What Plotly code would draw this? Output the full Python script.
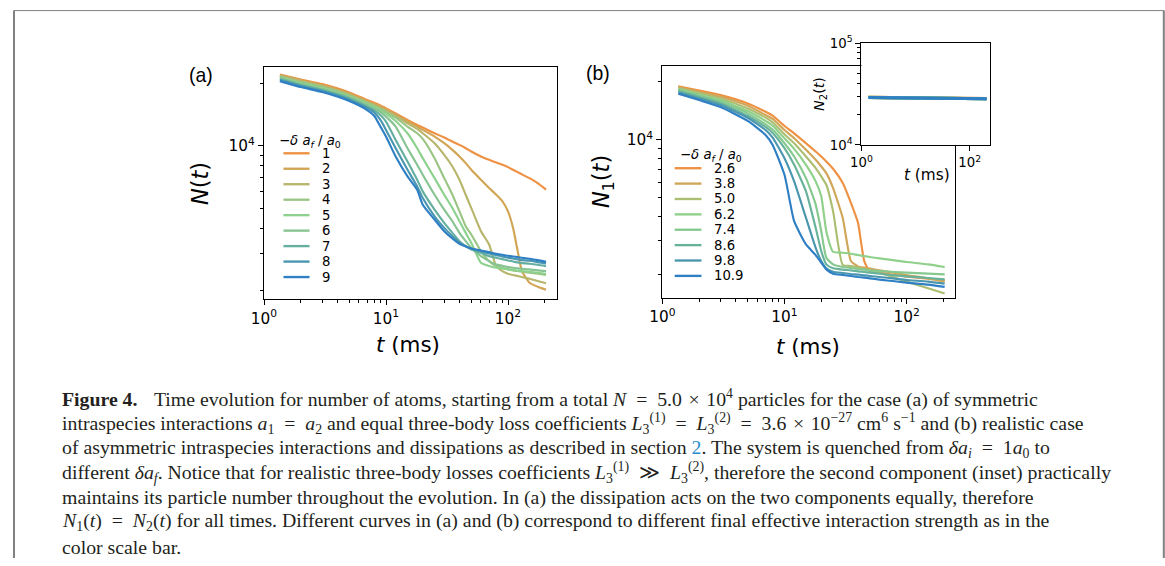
import plotly.graph_objects as go

W, H = 1165, 566

# ---------------- data: panel (a) ----------------
t_a = [1.35, 2, 3, 5, 7, 8, 9, 10, 12, 15, 18, 20, 25, 30, 35, 40, 45, 50, 60, 70,
       80, 90, 100, 110, 120, 130, 150, 175, 205]
labels_a = ["1", "2", "3", "4", "5", "6", "7", "8", "9"]
colors_a = ["#EE9143", "#D2A554", "#B8B56C", "#9BC585", "#8CD28D", "#87C491",
            "#64AF9F", "#4896AF", "#2E7FC4"]
N_a1 = [22160, 20970, 19910, 18150, 16670, 16180, 15710, 15190, 14370, 13350, 12630, 12260,
        11510, 10970, 10490, 10110, 9744, 9390, 8884, 8560, 8310, 8100, 7890, 7660, 7460,
        7275, 6980, 6600, 6134]
N_a2 = [22000, 20810, 19690, 17950, 16480, 16000, 15530, 15020, 14210, 13150, 12390, 11950,
        11090, 10300, 9565, 8884, 8250, 7660, 6855, 6250, 5800, 5390, 4820, 4008, 3092,
        2477, 2175, 2081, 2013]
N_a3 = [21840, 20580, 19470, 17750, 16300, 15770, 15300, 14800, 13950, 12860, 12080, 11510,
        10300, 9050, 7950, 6855, 5800, 5000, 3862, 3331, 2618, 2477, 2404, 2369, 2343,
        2317, 2274, 2216, 2160]
N_a4 = [21680, 20350, 19260, 17550, 16120, 15590, 15080, 14590, 13700, 12390, 11510, 10810,
        8720, 6980, 5800, 4820, 4083, 3722, 3092, 2767, 2618, 2570, 2523, 2495, 2477,
        2459, 2432, 2404, 2369]
N_a5 = [21440, 20130, 19050, 17360, 15940, 15360, 14860, 14320, 13200, 11510, 9744, 8720,
        6980, 5800, 5000, 4315, 3791, 3393, 2717, 2618, 2570, 2551, 2523, 2505, 2486,
        2477, 2459, 2432, 2404]
N_a6 = [21280, 19910, 18840, 17170, 15710, 15130, 14590, 13850, 12390, 9744, 8100, 7250,
        5800, 4910, 4315, 3791, 3456, 3209, 2925, 2767, 2667, 2628, 2589, 2570, 2551,
        2542, 2523, 2495, 2477]
N_a7 = [21050, 19690, 18630, 16980, 15480, 14860, 14110, 13100, 10690, 8403, 6855, 6020,
        4910, 4236, 3791, 3456, 3270, 3150, 3035, 2925, 2872, 2830, 2788, 2757, 2727,
        2707, 2687, 2657, 2618]
N_a8 = [20810, 19470, 18420, 16730, 15250, 14530, 13350, 11950, 9744, 7660, 6365, 5590,
        4560, 4008, 3654, 3393, 3270, 3185, 3092, 3013, 2958, 2914, 2872, 2851, 2819,
        2798, 2778, 2737, 2697]
N_a9 = [20580, 19260, 18220, 16480, 14910, 14000, 12390, 11090, 8884, 7115, 6134, 5190,
        4395, 3862, 3560, 3355, 3257, 3185, 3115, 3058, 3002, 2969, 2936, 2914, 2893,
        2872, 2840, 2798, 2747]
series_a = [N_a1, N_a2, N_a3, N_a4, N_a5, N_a6, N_a7, N_a8, N_a9]

# ---------------- data: panel (b) ----------------
t_b = [1.35, 2, 3, 5, 7, 8, 10, 12, 15, 18, 20, 22, 25, 30, 35, 40, 45, 50, 60, 80, 100, 150, 205]
labels_b = ["2.6", "3.8", "5.0", "6.2", "7.4", "8.6", "9.8", "10.9"]
colors_b = ["#EE9143", "#D0A658", "#ACBE72", "#8FD08A", "#86C98F", "#68B29B", "#4A96AE", "#2E7FC4"]
N_b1 = [19000, 18050, 17070, 15470, 14000, 13350, 11810, 10820, 9612, 8706, 8200, 7728, 7085,
        5973, 4709, 3713, 2354, 2074, 2049, 1993, 1954, 1908, 1870]
N_b2 = [18780, 17770, 16740, 15040, 13460, 12840, 11260, 10200, 8880, 7885, 7284, 6729, 5628,
        3939, 2354, 2209, 2175, 2149, 2107, 2041, 1993, 1915, 1841]
N_b3 = [18560, 17480, 16410, 14570, 13040, 12340, 10700, 9612, 8200, 7141, 6467, 5856, 4265,
        2244, 2218, 2175, 2141, 2107, 2049, 1931, 1841, 1701, 1596]
N_b4 = [18340, 17210, 16090, 14110, 12540, 11860, 10200, 8986, 7430, 6093, 5098, 3363, 2630,
        2599, 2568, 2528, 2498, 2469, 2430, 2373, 2326, 2262, 2192]
N_b5 = [18120, 16940, 15780, 13730, 12050, 11310, 9612, 8200, 6340, 4617, 3363, 2449, 2262,
        2192, 2166, 2141, 2124, 2107, 2090, 2065, 2049, 2025, 2009]
N_b6 = [17910, 16670, 15470, 13350, 11670, 10870, 9057, 7430, 5409, 3499, 2651, 2262, 2158,
        2124, 2107, 2082, 2065, 2049, 2025, 1985, 1961, 1923, 1892]
N_b7 = [17620, 16410, 15160, 13040, 11260, 10280, 8040, 6093, 3939, 2758, 2354, 2158, 2074,
        2041, 2017, 2001, 1985, 1969, 1946, 1908, 1877, 1841, 1797]
N_b8 = [17350, 16090, 14800, 12540, 10610, 9423, 6597, 3787, 2870, 2528, 2308, 2132, 2025,
        1993, 1969, 1946, 1931, 1915, 1885, 1848, 1819, 1776, 1728]
series_b = [N_b1, N_b2, N_b3, N_b4, N_b5, N_b6, N_b7, N_b8]

# ---------------- data: inset N2(t) ----------------
t_in = [1.35, 5, 20, 60, 205]
N2_b1 = [29300, 29200, 28900, 28600, 28500]
N2_b2 = [29300, 29200, 28900, 28600, 28500]
N2_b3 = [29300, 29200, 28850, 28550, 28450]
N2_b4 = [29300, 29150, 28800, 28550, 28450]
N2_b5 = [29250, 29150, 28800, 28500, 28400]
N2_b6 = [29250, 29100, 28800, 28500, 28400]
N2_b7 = [29200, 29100, 28750, 28500, 28400]
N2_b8 = [29200, 29100, 28750, 28500, 28400]
series_in = [N2_b1, N2_b2, N2_b3, N2_b4, N2_b5, N2_b6, N2_b7, N2_b8]

E = "\u2002"   # en space: wider spacing around relations
T = "\u2004"   # three-per-em space: around binary operators
caption_lines = [
    "<b>Figure 4.</b>" + E + T + "Time evolution for number of atoms, starting from a total <i>N</i>" + E + "=" + E
    + "5.0" + T + "×" + T + "10<sup>4</sup> particles for the case (a) of symmetric",
    "intraspecies interactions <i>a</i><sub>1</sub>" + E + "=" + E + "<i>a</i><sub>2</sub> and equal three-body loss coefficients <i>L</i><sub>3</sub><sup>(1)</sup>"
    + E + "=" + E + "<i>L</i><sub>3</sub><sup>(2)</sup>" + E + "=" + E
    + "3.6" + T + "×" + T + "10<sup>−27</sup> cm<sup>6</sup> s<sup>−1</sup> and (b) realistic case",
    "of asymmetric intraspecies interactions and dissipations as described in section <span style='color:#2a8bd0'>2</span>. The system is quenched from <i>δa<sub>i</sub></i>"
    + E + "=" + E + "1<i>a</i><sub>0</sub> to",
    "different <i>δa<sub>f</sub></i>. Notice that for realistic three-body losses coefficients <i>L</i><sub>3</sub><sup>(1)</sup>"
    + E + "≫" + E + "<i>L</i><sub>3</sub><sup>(2)</sup>, therefore the second component (inset) practically",
    "maintains its particle number throughout the evolution. In (a) the dissipation acts on the two components equally, therefore",
    "<i>N</i><sub>1</sub>(<i>t</i>)" + E + "=" + E + "<i>N</i><sub>2</sub>(<i>t</i>) for all times. Different curves in (a) and (b) correspond to different final effective interaction strength as in the",
    "color scale bar.",
]

# ---------------- helpers ----------------
# The page is shown with an 8 px body margin and the whole page is then fitted to
# 1165x566, so target (screen) pixels are mapped back to figure pixels here.
KX = 1165 / 1181
KY = 566 / 582
OFF = 8
KF = 0.98  # average shrink applied to sizes


def px_x(s):
    return s / KX - OFF


def px_y(s):
    return s / KY - OFF


def fx(s):
    return px_x(s) / W


def fy(s):
    return 1 - px_y(s) / H


def fs(v):
    return v / KF


SANS = "DejaVu Sans"
fig = go.Figure()

for vals, col in zip(series_a, colors_a):
    fig.add_trace(go.Scatter(x=t_a, y=vals, mode="lines", xaxis="x", yaxis="y",
                             line=dict(color=col, width=fs(2.1), shape="spline", smoothing=0.5),
                             showlegend=False, hoverinfo="skip"))
for vals, col in zip(series_b, colors_b):
    fig.add_trace(go.Scatter(x=t_b, y=vals, mode="lines", xaxis="x2", yaxis="y2",
                             line=dict(color=col, width=fs(2.1), shape="spline", smoothing=0.5),
                             showlegend=False, hoverinfo="skip"))
for vals, col in zip(series_in, colors_b):
    fig.add_trace(go.Scatter(x=t_in, y=vals, mode="lines", xaxis="x3", yaxis="y3",
                             line=dict(color=col, width=fs(3)), showlegend=False, hoverinfo="skip"))


def sup(s):
    return "10<sup>%s</sup>" % s


minor_x = [2, 3, 4, 5, 6, 7, 8, 9, 20, 30, 40, 50, 60, 70, 80, 90, 200]
minor_y = [2000, 3000, 4000, 5000, 6000, 7000, 8000, 9000, 20000]


def ax_style(tickvals, ticktext, minor_vals, rng, dom, anchor, size=15):
    d = dict(type="log", range=rng, domain=dom, anchor=anchor,
             showline=True, linecolor="black", linewidth=fs(1.3), mirror=True,
             ticks="outside", ticklen=fs(5), tickwidth=fs(1.1), tickcolor="black",
             tickvals=tickvals, ticktext=ticktext,
             tickfont=dict(family=SANS, size=fs(size), color="black"),
             showgrid=False, zeroline=False, fixedrange=True)
    if minor_vals:
        d["minor"] = dict(tickvals=minor_vals, ticks="outside", ticklen=fs(2.8),
                          tickwidth=fs(0.8), tickcolor="black", showgrid=False)
    return d


fig.update_layout(
    width=W, height=H, margin=dict(l=0, r=0, t=0, b=0),
    paper_bgcolor="white", plot_bgcolor="white", showlegend=False,
    xaxis=ax_style([1, 10, 100], [sup(0), sup(1), sup(2)], minor_x, [0, 2.405],
                   [fx(258.3), fx(551)], "y"),
    yaxis=ax_style([10000], [sup(4)], minor_y, [3.2575, 4.382],
                   [fy(298.3), fy(65)], "x"),
    xaxis2=ax_style([1, 10, 100], [sup(0), sup(1), sup(2)], minor_x, [0, 2.397],
                    [fx(655.7), fx(947.7)], "y2"),
    yaxis2=ax_style([10000], [sup(4)], minor_y, [3.182, 4.382],
                    [fy(296.7), fy(64.3)], "x2"),
    xaxis3=ax_style([1, 100], [sup(0), sup(2)], None, [0, 2.378],
                    [fx(854.3), fx(982.7)], "y3", size=13),
    yaxis3=ax_style([10000, 100000], [sup(4), sup(5)],
                    [20000, 30000, 40000, 50000, 60000, 70000, 80000, 90000], [4, 5],
                    [fy(143.3), fy(41)], "x3", size=13),
)

ann = []
shapes = []


def text(x, y, s, size, family=SANS, angle=0, xanchor="center", color="black"):
    ann.append(dict(x=fx(x), y=fy(y), xref="paper", yref="paper", text=s, showarrow=False,
                    xanchor=xanchor, yanchor="middle", textangle=angle,
                    font=dict(family=family, size=fs(size), color=color)))


# panel labels
text(195, 73, "(a)", 19, family="Liberation Sans")
text(591, 71, "(b)", 19, family="Liberation Sans")
# axis titles
text(195, 182, "<i>N</i>(<i>t</i>)", 22, angle=-90)
text(402, 344, "<i>t</i> (ms)", 21)
text(597, 180, "<i>N</i><sub>1</sub>(<i>t</i>)", 22, angle=-90)
text(801, 346, "<i>t</i> (ms)", 21)
text(813, 92, "<i>N</i><sub>2</sub>(<i>t</i>)", 14, angle=-90)
text(920, 174, "<i>t</i> (ms)", 15)

# legends
leg_title = "−<i>δ a<sub>f</sub></i> / <i>a</i><sub>0</sub>"
text(271.5, 139.5, leg_title, 13, xanchor="left")
for i, (lab, col) in enumerate(zip(labels_a, colors_a)):
    yy = 151.7 + i * 15.54
    shapes.append(dict(type="line", xref="paper", yref="paper", x0=fx(277.7), x1=fx(303.7),
                       y0=fy(yy), y1=fy(yy), line=dict(color=col, width=fs(2.3))))
    text(314.5, yy, lab, 13, xanchor="left")

text(671, 153.5, leg_title, 13, xanchor="left")
for i, (lab, col) in enumerate(zip(labels_b, colors_b)):
    yy = 166.7 + i * 15.45
    shapes.append(dict(type="line", xref="paper", yref="paper", x0=fx(668), x1=fx(694.7),
                       y0=fy(yy), y1=fy(yy), line=dict(color=col, width=fs(2.3))))
    text(705.5, yy, lab, 13, xanchor="left")

# caption
cap_y = [398, 423, 448, 472.5, 497.5, 522, 547]
for yy, line in zip(cap_y, caption_lines):
    text(55, yy, line, 19.4, family="Liberation Serif", xanchor="left", color="#231f20")

# page frame (open box around the figure), kept inside the drawable area
frame_col = "#808080"
xl = max(fx(7), 1.0 / W)
xr = min(fx(1159.5), 1 - 1.2 / W)
yt = min(fy(4.5), 1 - 0.6 / H)
shapes.append(dict(type="line", xref="paper", yref="paper", x0=xl, x1=xl, y0=yt, y1=0,
                   line=dict(color=frame_col, width=2)))
shapes.append(dict(type="line", xref="paper", yref="paper", x0=xr, x1=xr, y0=yt, y1=0,
                   line=dict(color=frame_col, width=2)))
shapes.append(dict(type="line", xref="paper", yref="paper", x0=xl, x1=xr, y0=yt, y1=yt,
                   line=dict(color=frame_col, width=1)))

fig.update_layout(annotations=ann, shapes=shapes)
fig.write_html("out.html")
